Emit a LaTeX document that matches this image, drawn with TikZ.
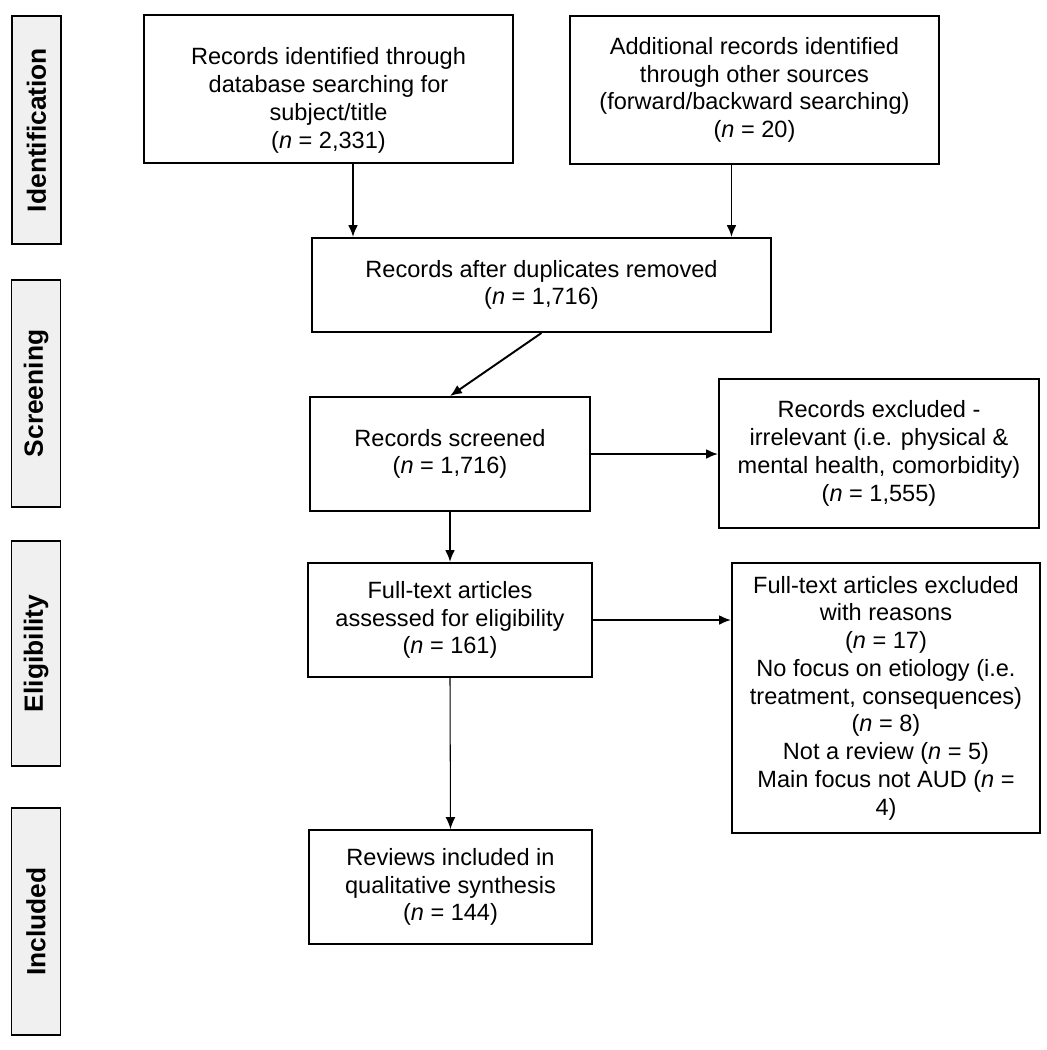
\documentclass[tikz,border=0pt]{standalone}
\usepackage{fontspec}
\setmainfont{Liberation Sans}
\usetikzlibrary{arrows.meta}
\tikzset{
	>={Latex[length=6.8pt,width=5.6pt]},
	box/.style={draw, line width=1.1pt, align=center, inner sep=0pt, font=\fontsize{13.4pt}{15.8pt}\selectfont},
	phase/.style={draw, line width=1.1pt, fill=black!6, rotate=90, inner sep=0pt, minimum height=0.98cm, font=\fontsize{15pt}{18pt}\selectfont\bfseries},
	link/.style={->, line width=1.1pt}
}
\begin{document}
\begin{tikzpicture}
			\useasboundingbox (0,0) rectangle (20.94,-21.0);
			\node[phase, minimum width=4.56cm] (ident) at (0.73,-2.60) {Identification};
			\node[phase, minimum width=4.54cm] (screen) at (0.72,-7.87) {Screening};
			\node[phase, minimum width=4.50cm] (elig) at (0.72,-13.07) {Eligibility};
			\node[phase, minimum width=4.54cm] (incl) at (0.72,-18.43) {Included};
			\node[box, minimum width=7.38cm, minimum height=2.96cm] (database) at (6.57,-1.78) {\rule{0pt}{0.8cm}Records identified through\\database searching for\\subject/title\\(\textit{n} = 2,331)};
			\node[box, minimum width=7.38cm, minimum height=2.96cm] (other) at (15.09,-1.80) {Additional records identified\\through other sources\\(forward/backward searching)\\(\textit{n} = 20)};
			\node[box, minimum width=9.18cm, minimum height=1.88cm] (dupl) at (10.83,-5.70) {Records after duplicates removed\\(\textit{n} = 1,716)};
			\node[box, minimum width=5.60cm, minimum height=2.28cm] (screened) at (9.00,-9.08) {Records screened\\(\textit{n} = 1,716)};
			\node[box, minimum width=6.40cm, minimum height=2.98cm] (excl) at (17.58,-9.07) {Records excluded -\\irrelevant (i.e. physical \&\\mental health, comorbidity)\\(\textit{n} = 1,555)};
			\node[box, minimum width=5.68cm, minimum height=2.28cm] (fulltext) at (9.00,-12.40) {Full-text articles\\assessed for eligibility\\(\textit{n} = 161)};
			\node[box, minimum width=6.16cm, minimum height=5.40cm] (ftexcl) at (17.72,-13.96) {Full-text articles excluded\\with reasons\\(\textit{n} = 17)\\No focus on etiology (i.e.\\treatment, consequences)\\(\textit{n} = 8)\\Not a review (\textit{n} = 5)\\Main focus not AUD (\textit{n} =\\4)};
			\node[box, minimum width=5.66cm, minimum height=2.28cm] (reviews) at (9.01,-17.74) {Reviews included in\\qualitative synthesis\\(\textit{n} = 144)};
			\coordinate (dbout) at ([xshift=0.49cm]database.south);
			\coordinate (otout) at ([xshift=-0.46cm]other.south);
			\draw[link] (dbout) -- (dbout |- dupl.north);
			\draw[link] (otout) -- (otout |- dupl.north);
			\draw[link] (dupl.south) -- (screened.north);
			\draw[link] (screened.east) -- (screened.east -| excl.west);
			\draw[link] (screened.south) -- (fulltext.north);
			\draw[link] (fulltext.east) -- (fulltext.east -| ftexcl.west);
			\draw[->, line width=0.6pt] (fulltext.south) -- (reviews.north);
		\end{tikzpicture}
\end{document}
